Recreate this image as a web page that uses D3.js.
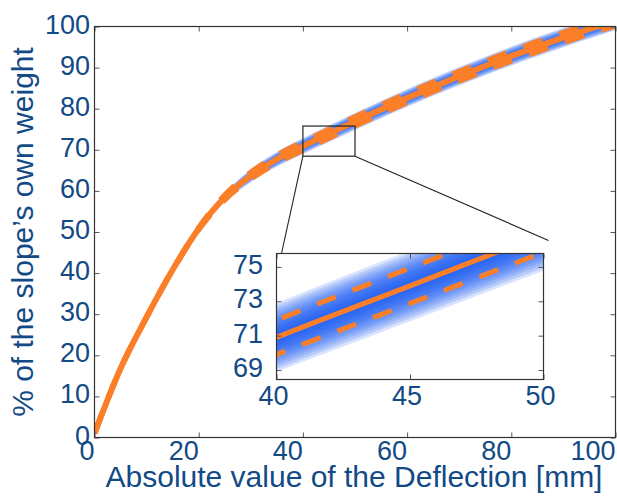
<!DOCTYPE html>
<html>
<head>
<meta charset="utf-8">
<script src="https://cdn.jsdelivr.net/npm/d3@7/dist/d3.min.js"></script>
<style>
body { margin: 0; background: #fff; }
text { font-family: "Liberation Sans", Arial, sans-serif; fill: #124a86; }
</style>
</head>
<body>
<div id="chart"></div>
<script>
// values
var deflection = [0, 5, 10, 15, 20, 25, 30, 35, 40, 45, 50, 55, 60, 65, 70, 75, 80, 85, 90, 95, 100];
var weightPct  = [1, 16.8, 29.3, 40.8, 50.8, 58.4, 63.7, 67.7, 70.9, 73.9, 76.9, 79.8, 82.6, 85.3, 87.9, 90.4, 92.8, 95.1, 97.3, 99.4, 101.4];
var spread     = [0, 0, 0, 0.05, 0.2, 0.55, 0.8, 0.92, 1.0, 1.03, 1.06, 1.08, 1.1, 1.12, 1.14, 1.16, 1.18, 1.2, 1.2, 1.2, 1.2];
var xTicks = [0, 20, 40, 60, 80, 100];
var yTicks = [0, 10, 20, 30, 40, 50, 60, 70, 80, 90, 100];
var insetX = [40, 50];
var insetY = [68.45, 75.78];
var insetXTicks = [40, 45, 50];
var insetYTicks = [69, 71, 73, 75];

var xLabel = "Absolute value of the Deflection [mm]";
var yLabel = "% of the slope\u2019s own weight";

var width = 617, height = 498;
var orange = "#fb7e29", bandColor = "#0a4ff5", spine = "#333";
var nLayers = 12;

var rows = deflection.map(function(d, i) { return {x: d, m: weightPct[i], s: spread[i]}; });

var svg = d3.select("#chart").append("svg").attr("width", width).attr("height", height);

var x = d3.scaleLinear().domain([0, 100]).range([94.5, 615.5]);
var y = d3.scaleLinear().domain([0, 100]).range([437.5, 26.5]);

// draws band + dashed + solid into g using scales sx, sy
function drawCurves(g, sx, sy, lw, dlw) {
  for (var k = 1; k <= nLayers; k++) {
    var f = 2 * k / nLayers;
    g.append("path").datum(rows)
      .attr("fill", bandColor).attr("fill-opacity", 0.16)
      .attr("d", d3.area().curve(d3.curveMonotoneX)
        .x(function(d) { return sx(d.x); })
        .y0(function(d) { return sy(d.m - f * d.s); })
        .y1(function(d) { return sy(d.m + f * d.s); }));
  }
  [-1, 1].forEach(function(sgn) {
    g.append("path").datum(rows)
      .attr("fill", "none").attr("stroke", orange).attr("stroke-width", dlw)
      .attr("stroke-dasharray", "20,18")
      .attr("d", d3.line().curve(d3.curveMonotoneX)
        .x(function(d) { return sx(d.x); })
        .y(function(d) { return sy(d.m + sgn * d.s); }));
  });
  g.append("path").datum(rows)
    .attr("fill", "none").attr("stroke", orange).attr("stroke-width", lw)
    .attr("d", d3.line().curve(d3.curveMonotoneX)
      .x(function(d) { return sx(d.x); })
      .y(function(d) { return sy(d.m); }));
}

function ticks(g, sx, sy, xt, yt) {
  var x0 = sx.range()[0], x1 = sx.range()[1], y0 = sy.range()[0], y1 = sy.range()[1];
  g.append("g").attr("transform", "translate(0," + y0 + ")")
    .call(d3.axisBottom(sx).tickValues(xt).tickSize(-5).tickFormat(""));
  g.append("g").attr("transform", "translate(0," + y1 + ")")
    .call(d3.axisTop(sx).tickValues(xt).tickSize(-5).tickFormat(""));
  g.append("g").attr("transform", "translate(" + x0 + ",0)")
    .call(d3.axisLeft(sy).tickValues(yt).tickSize(-5).tickFormat(""));
  g.append("g").attr("transform", "translate(" + x1 + ",0)")
    .call(d3.axisRight(sy).tickValues(yt).tickSize(-5).tickFormat(""));
  g.selectAll(".domain").remove();
  g.selectAll(".tick line").attr("stroke", "#555");
  g.append("rect").attr("x", x0).attr("y", y1).attr("width", x1 - x0).attr("height", y0 - y1)
    .attr("fill", "none").attr("stroke", spine).attr("stroke-width", 1.2);
}

// main axes
svg.append("clipPath").attr("id", "clipMain").append("rect")
  .attr("x", 94.5).attr("y", 26.5).attr("width", 521).attr("height", 411);
var main = svg.append("g").attr("clip-path", "url(#clipMain)");
drawCurves(main, x, y, 6, 5.5);
ticks(svg.append("g"), x, y, xTicks, yTicks);

svg.append("g").selectAll("text").data(xTicks).enter().append("text")
  .attr("x", function(d) { return x(d); }).attr("y", 460)
  .attr("text-anchor", "end").attr("font-size", 27).text(function(d) { return d; });
svg.append("g").selectAll("text").data(yTicks).enter().append("text")
  .attr("x", 90).attr("y", function(d) { return y(d) + 7; })
  .attr("text-anchor", "end").attr("font-size", 27).text(function(d) { return d; });

svg.append("text").attr("x", 354).attr("y", 487).attr("text-anchor", "middle")
  .attr("font-size", 30).text(xLabel);
svg.append("text").attr("transform", "translate(33,232) rotate(-90)").attr("text-anchor", "middle")
  .attr("font-size", 30).text(yLabel);

// zoom box on main axes
svg.append("rect")
  .attr("x", x(insetX[0])).attr("y", y(insetY[1]))
  .attr("width", x(insetX[1]) - x(insetX[0])).attr("height", y(insetY[0]) - y(insetY[1]))
  .attr("fill", "none").attr("stroke", "#222").attr("stroke-width", 1.2);

// inset axes
var ix = d3.scaleLinear().domain(insetX).range([276.5, 543.5]);
var iy = d3.scaleLinear().domain(insetY).range([379.5, 253.5]);

svg.append("line").attr("x1", x(insetX[0])).attr("y1", y(insetY[0]))
  .attr("x2", ix(insetX[0]) + 5).attr("y2", iy(insetY[1]))
  .attr("stroke", "#222").attr("stroke-width", 1.1);
svg.append("line").attr("x1", x(insetX[1])).attr("y1", y(insetY[0]))
  .attr("x2", ix(insetX[1]) + 5).attr("y2", iy(insetY[1]) - 13)
  .attr("stroke", "#222").attr("stroke-width", 1.1);

svg.append("rect").attr("x", 276.5).attr("y", 253.5).attr("width", 267).attr("height", 126).attr("fill", "#fff");
svg.append("clipPath").attr("id", "clipInset").append("rect")
  .attr("x", 276.5).attr("y", 253.5).attr("width", 267).attr("height", 126);
var inset = svg.append("g").attr("clip-path", "url(#clipInset)");
drawCurves(inset, ix, iy, 5, 5);
ticks(svg.append("g"), ix, iy, insetXTicks, insetYTicks);

svg.append("g").selectAll("text").data(insetXTicks).enter().append("text")
  .attr("x", function(d) { return ix(d) - 3; }).attr("y", 405)
  .attr("text-anchor", "middle").attr("font-size", 27).text(function(d) { return d; });
svg.append("g").selectAll("text").data(insetYTicks).enter().append("text")
  .attr("x", 263).attr("y", function(d) { return iy(d) + 7; })
  .attr("text-anchor", "end").attr("font-size", 27).text(function(d) { return d; });
</script>
</body>
</html>
